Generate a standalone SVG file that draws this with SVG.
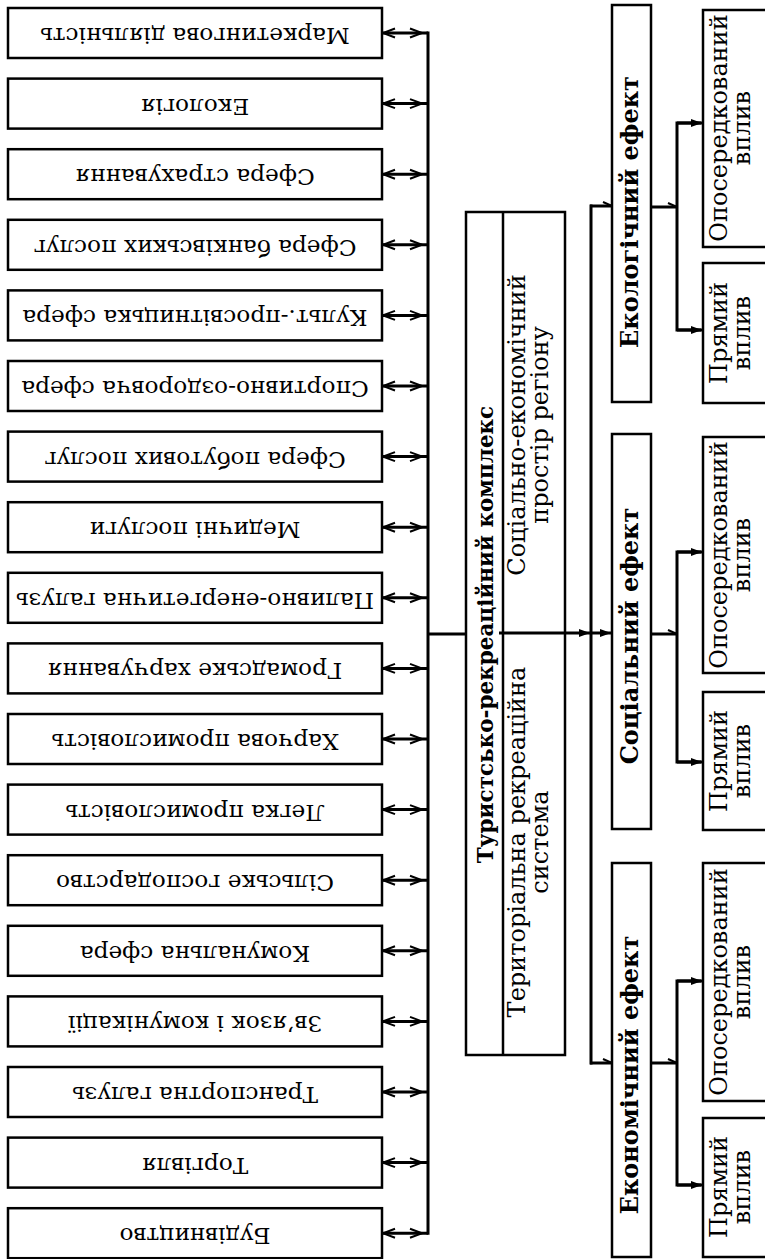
<svg xmlns="http://www.w3.org/2000/svg" width="765" height="1259" viewBox="0 0 765 1259">
<style>
.box{fill:#fff;stroke:#000;stroke-width:2.5}
.t{font-family:"DejaVu Serif","Liberation Serif",serif;font-size:24px;fill:#000;text-anchor:middle}
.l{font-size:23.2px}
.b{font-weight:bold}
.tt{font-size:21.5px}
.c{fill:none;stroke:#000;stroke-width:3}
</style>
<defs>
<marker id="oL" markerUnits="userSpaceOnUse" viewBox="-14 -6 16 12" refX="0" refY="0" markerWidth="16" markerHeight="12" orient="auto-start-reverse"><path d="M-12,-4.5 L0,0 L-12,4.5" fill="none" stroke="#000" stroke-width="2"/></marker>
<marker id="oR" markerUnits="userSpaceOnUse" viewBox="-20 -6 22 12" refX="0" refY="0" markerWidth="22" markerHeight="12" orient="auto"><path d="M-18,-4.5 L-6,0 L-18,4.5" fill="none" stroke="#000" stroke-width="2"/></marker>
<marker id="f" markerUnits="userSpaceOnUse" viewBox="-12 -6 13 12" refX="0" refY="0" markerWidth="13" markerHeight="12" orient="auto"><path d="M-11,-4 L0,0 L-11,4 Z" fill="#000"/></marker>
<marker id="h" markerUnits="userSpaceOnUse" viewBox="-12 -6 13 12" refX="0" refY="0" markerWidth="13" markerHeight="12" orient="auto"><path d="M-9,-4 L0,0" fill="none" stroke="#000" stroke-width="2"/></marker>
</defs>

<g id="n1"><rect class="box" x="8" y="8" width="374" height="50"/><text class="t l" x="195" y="38" transform="rotate(180 195 33)">Маркетингова діяльність</text></g>
<g id="n2"><rect class="box" x="8" y="78.6" width="374" height="50"/><text class="t l" x="195" y="108.6" transform="rotate(180 195 103.6)">Екологія</text></g>
<g id="n3"><rect class="box" x="8" y="149.2" width="374" height="50"/><text class="t l" x="195" y="179.2" transform="rotate(180 195 174.2)">Сфера страхування</text></g>
<g id="n4"><rect class="box" x="8" y="219.8" width="374" height="50"/><text class="t l" x="195" y="249.8" transform="rotate(180 195 244.8)">Сфера банківських послуг</text></g>
<g id="n5"><rect class="box" x="8" y="290.4" width="374" height="50"/><text class="t l" x="195" y="320.4" transform="rotate(180 195 315.4)">Культ.-просвітницька сфера</text></g>
<g id="n6"><rect class="box" x="8" y="361" width="374" height="50"/><text class="t l" x="195" y="391" transform="rotate(180 195 386)">Спортивно-оздоровча сфера</text></g>
<g id="n7"><rect class="box" x="8" y="431.6" width="374" height="50"/><text class="t l" x="195" y="461.6" transform="rotate(180 195 456.6)">Сфера побутових послуг</text></g>
<g id="n8"><rect class="box" x="8" y="502.2" width="374" height="50"/><text class="t l" x="195" y="532.2" transform="rotate(180 195 527.2)">Медичні послуги</text></g>
<g id="n9"><rect class="box" x="8" y="572.8" width="374" height="50"/><text class="t l" x="195" y="602.8" transform="rotate(180 195 597.8)">Паливно-енергетична галузь</text></g>
<g id="n10"><rect class="box" x="8" y="643.4" width="374" height="50"/><text class="t l" x="195" y="673.4" transform="rotate(180 195 668.4)">Громадське харчування</text></g>
<g id="n11"><rect class="box" x="8" y="714" width="374" height="50"/><text class="t l" x="195" y="744" transform="rotate(180 195 739)">Харчова промисловість</text></g>
<g id="n12"><rect class="box" x="8" y="784.6" width="374" height="50"/><text class="t l" x="195" y="814.6" transform="rotate(180 195 809.6)">Легка промисловість</text></g>
<g id="n13"><rect class="box" x="8" y="855.2" width="374" height="50"/><text class="t l" x="195" y="885.2" transform="rotate(180 195 880.2)">Сільське господарство</text></g>
<g id="n14"><rect class="box" x="8" y="925.8" width="374" height="50"/><text class="t l" x="195" y="955.8" transform="rotate(180 195 950.8)">Комунальна сфера</text></g>
<g id="n15"><rect class="box" x="8" y="996.4" width="374" height="50"/><text class="t l" x="195" y="1026.4" transform="rotate(180 195 1021.4)">Зв’язок і комунікації</text></g>
<g id="n16"><rect class="box" x="8" y="1067" width="374" height="50"/><text class="t l" x="195" y="1097" transform="rotate(180 195 1092)">Транспортна галузь</text></g>
<g id="n17"><rect class="box" x="8" y="1137.6" width="374" height="50"/><text class="t l" x="195" y="1167.6" transform="rotate(180 195 1162.6)">Торгівля</text></g>
<g id="n18"><rect class="box" x="8" y="1208.2" width="374" height="50"/><text class="t l" x="195" y="1238.2" transform="rotate(180 195 1233.2)">Будівництво</text></g>

<g id="center">
<rect class="box" x="466" y="212" width="99" height="843"/>
<line x1="503" y1="212" x2="503" y2="1055" stroke="#000" stroke-width="2.5"/>
<text class="t b tt" transform="translate(493 634.5) rotate(-90)">Туристсько-рекреаційний комплекс</text>
<text class="t" transform="translate(525 425) rotate(-90)">Соціально-економічний</text>
<text class="t" transform="translate(548 425) rotate(-90)">простір регіону</text>
<text class="t" transform="translate(525 842) rotate(-90)">Територіальна рекреаційна</text>
<text class="t" transform="translate(548 842) rotate(-90)">система</text>
</g>

<g id="eco"><rect class="box" x="612" y="5" width="39" height="397"/><text class="t b" transform="translate(638 212) rotate(-90)">Екологічний ефект</text></g>
<g id="soc"><rect class="box" x="612" y="434" width="39" height="395"/><text class="t b" transform="translate(638 636) rotate(-90)">Соціальний ефект</text></g>
<g id="econ"><rect class="box" x="612" y="863" width="39" height="394"/><text class="t b" transform="translate(638 1075) rotate(-90)">Економічний ефект</text></g>

<g id="eco-ind"><rect class="box" x="703" y="10" width="70" height="237"/><text class="t" transform="translate(727 128) rotate(-90)">Опосередкований</text><text class="t" transform="translate(750 128) rotate(-90)">вплив</text></g>
<g id="eco-dir"><rect class="box" x="703" y="263" width="70" height="140"/><text class="t" transform="translate(727 333) rotate(-90)">Прямий</text><text class="t" transform="translate(750 333) rotate(-90)">вплив</text></g>
<g id="soc-ind"><rect class="box" x="703" y="437" width="70" height="236"/><text class="t" transform="translate(727 555) rotate(-90)">Опосередкований</text><text class="t" transform="translate(750 555) rotate(-90)">вплив</text></g>
<g id="soc-dir"><rect class="box" x="703" y="692" width="70" height="138"/><text class="t" transform="translate(727 761) rotate(-90)">Прямий</text><text class="t" transform="translate(750 761) rotate(-90)">вплив</text></g>
<g id="econ-ind"><rect class="box" x="703" y="863" width="70" height="238"/><text class="t" transform="translate(727 982) rotate(-90)">Опосередкований</text><text class="t" transform="translate(750 982) rotate(-90)">вплив</text></g>
<g id="econ-dir"><rect class="box" x="703" y="1118" width="70" height="139"/><text class="t" transform="translate(727 1187) rotate(-90)">Прямий</text><text class="t" transform="translate(750 1187) rotate(-90)">вплив</text></g>

<g id="connectors">
<line class="c" x1="428" y1="31.5" x2="428" y2="1234.7"/>
<line class="c" x1="383" y1="33" x2="428" y2="33" marker-start="url(#oL)" marker-end="url(#oR)"/>
<line class="c" x1="383" y1="103.6" x2="428" y2="103.6" marker-start="url(#oL)" marker-end="url(#oR)"/>
<line class="c" x1="383" y1="174.2" x2="428" y2="174.2" marker-start="url(#oL)" marker-end="url(#oR)"/>
<line class="c" x1="383" y1="244.8" x2="428" y2="244.8" marker-start="url(#oL)" marker-end="url(#oR)"/>
<line class="c" x1="383" y1="315.4" x2="428" y2="315.4" marker-start="url(#oL)" marker-end="url(#oR)"/>
<line class="c" x1="383" y1="386" x2="428" y2="386" marker-start="url(#oL)" marker-end="url(#oR)"/>
<line class="c" x1="383" y1="456.6" x2="428" y2="456.6" marker-start="url(#oL)" marker-end="url(#oR)"/>
<line class="c" x1="383" y1="527.2" x2="428" y2="527.2" marker-start="url(#oL)" marker-end="url(#oR)"/>
<line class="c" x1="383" y1="597.8" x2="428" y2="597.8" marker-start="url(#oL)" marker-end="url(#oR)"/>
<line class="c" x1="383" y1="668.4" x2="428" y2="668.4" marker-start="url(#oL)" marker-end="url(#oR)"/>
<line class="c" x1="383" y1="739" x2="428" y2="739" marker-start="url(#oL)" marker-end="url(#oR)"/>
<line class="c" x1="383" y1="809.6" x2="428" y2="809.6" marker-start="url(#oL)" marker-end="url(#oR)"/>
<line class="c" x1="383" y1="880.2" x2="428" y2="880.2" marker-start="url(#oL)" marker-end="url(#oR)"/>
<line class="c" x1="383" y1="950.8" x2="428" y2="950.8" marker-start="url(#oL)" marker-end="url(#oR)"/>
<line class="c" x1="383" y1="1021.4" x2="428" y2="1021.4" marker-start="url(#oL)" marker-end="url(#oR)"/>
<line class="c" x1="383" y1="1092" x2="428" y2="1092" marker-start="url(#oL)" marker-end="url(#oR)"/>
<line class="c" x1="383" y1="1162.6" x2="428" y2="1162.6" marker-start="url(#oL)" marker-end="url(#oR)"/>
<line class="c" x1="383" y1="1233.2" x2="428" y2="1233.2" marker-start="url(#oL)" marker-end="url(#oR)"/>
<line class="c" x1="428" y1="634" x2="466" y2="634"/>
<line class="c" x1="499" y1="633" x2="590" y2="633" marker-end="url(#f)"/>
<line class="c" x1="591" y1="204.5" x2="591" y2="1064.5"/>
<line class="c" x1="590" y1="206" x2="612" y2="206" marker-end="url(#h)"/>
<line class="c" x1="591" y1="633" x2="611" y2="633" marker-end="url(#f)"/>
<line class="c" x1="590" y1="1063" x2="612" y2="1063" marker-end="url(#h)"/>
<line class="c" x1="651" y1="207" x2="677" y2="207" marker-end="url(#h)"/>
<path class="c" d="M701,123 H677 V330 H701"/>
<line class="c" x1="677" y1="123" x2="702" y2="123" marker-end="url(#f)"/>
<line class="c" x1="677" y1="330" x2="702" y2="330" marker-end="url(#f)"/>
<line class="c" x1="651" y1="634" x2="677" y2="634" marker-end="url(#h)"/>
<path class="c" d="M701,552 H677 V762 H701"/>
<line class="c" x1="677" y1="552" x2="702" y2="552" marker-end="url(#f)"/>
<line class="c" x1="677" y1="762" x2="702" y2="762" marker-end="url(#f)"/>
<line class="c" x1="651" y1="1063" x2="677" y2="1063" marker-end="url(#h)"/>
<path class="c" d="M701,981 H677 V1185 H701"/>
<line class="c" x1="677" y1="981" x2="702" y2="981" marker-end="url(#f)"/>
<line class="c" x1="677" y1="1185" x2="702" y2="1185" marker-end="url(#f)"/>
</g>
</svg>
